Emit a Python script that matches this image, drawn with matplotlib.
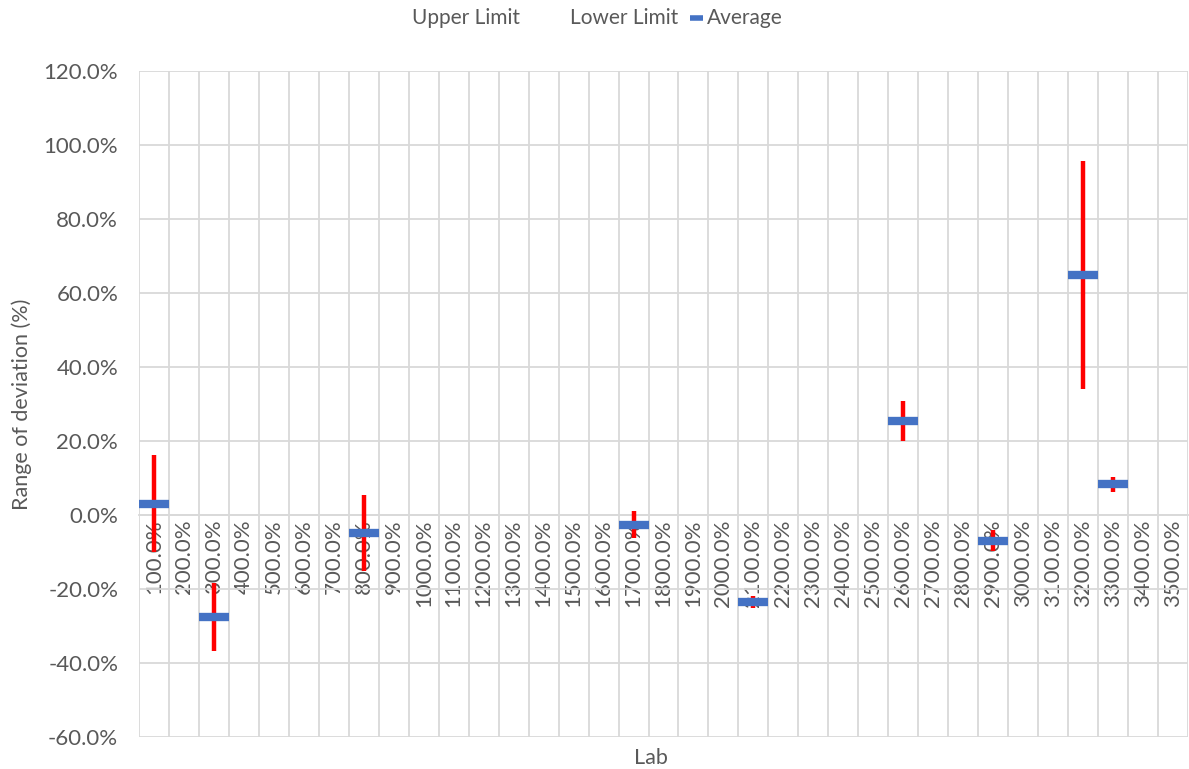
import numpy as np
import matplotlib
matplotlib.use("Agg")
import matplotlib.pyplot as plt
from matplotlib.lines import Line2D

plt.rcParams['font.family'] = ['Lato', 'DejaVu Sans']

# ---- data ----
labs = [f"{v}.0%" for v in range(100, 3600, 100)]
lab_index_with_data = [0, 2, 7, 16, 20, 25, 28, 31, 32]
average = [3.0, -27.5, -4.9, -2.7, -23.5, 25.5, -7.0, 65.0, 8.3]
upper = [16.2, -18.3, 5.3, 1.1, -22.0, 30.7, -4.1, 95.7, 10.4]
lower = [-10.0, -36.7, -15.0, -6.1, -25.0, 20.0, -9.8, 34.0, 6.2]
y_ticks = [-60, -40, -20, 0, 20, 40, 60, 80, 100, 120]
legend_labels = ['Upper Limit', 'Lower Limit', 'Average']

TEXT = '#595959'
GRID = '#d9d9d9'
BLUE = '#4472C4'
RED = '#FF0000'

fig = plt.figure(figsize=(11.89, 7.69), dpi=100)
ax = fig.add_axes([139/1189, 1-737/769, (1188-139)/1189, (737-71)/769])

for s in ['top', 'right', 'left']:
    ax.spines[s].set_visible(False)
ax.spines['bottom'].set_position(('data', 0))
ax.spines['bottom'].set_color(GRID)
ax.spines['bottom'].set_linewidth(1.3)

x = np.array(lab_index_with_data)
ax.vlines(x, lower, upper, color=RED, linewidth=3.2, zorder=3)
ax.plot(x, average, linestyle='none', marker='_', markersize=21,
        markeredgewidth=6, color=BLUE, zorder=4)

ax.set_xlim(-0.5, len(labs) - 0.5)
ax.set_ylim(-60, 120)
ax.set_yticks(y_ticks)
ax.set_yticklabels([f"{v:.1f}%" for v in y_ticks], color=TEXT, fontsize=16)
ax.set_xticks(np.arange(len(labs)))
ax.set_xticklabels(labs, rotation=90, color=TEXT, fontsize=16, va='top', ha='center')
ax.set_xticks(np.arange(-0.5, len(labs), 1), minor=True)

ax.tick_params(axis='both', which='both', length=0)
ax.tick_params(axis='x', pad=3)
ax.tick_params(axis='y', pad=15)

ax.grid(True, axis='y', which='major', color=GRID, linewidth=1.3, zorder=0)
ax.grid(True, axis='x', which='minor', color=GRID, linewidth=1.3, zorder=0)
ax.set_axisbelow(True)

fig.text(651/1189, 1-758/769, 'Lab', color=TEXT, fontsize=15.5, ha='center', va='center')
fig.text(22/1189, 1-404/769, 'Range of deviation (%)', color=TEXT, fontsize=15.5,
         rotation=90, ha='center', va='center')

# legend (top centre)
ly = 1 - 18/769
fig.text(412/1189, ly, legend_labels[0], color=TEXT, fontsize=15, ha='left', va='center')
fig.text(570/1189, ly, legend_labels[1], color=TEXT, fontsize=15, ha='left', va='center')
fig.add_artist(Line2D([690/1189, 703/1189], [ly, ly], transform=fig.transFigure,
                      color=BLUE, linewidth=4, solid_capstyle='butt'))
fig.text(707/1189, ly, legend_labels[2], color=TEXT, fontsize=15, ha='left', va='center')

fig.savefig('out.png', dpi=100)
